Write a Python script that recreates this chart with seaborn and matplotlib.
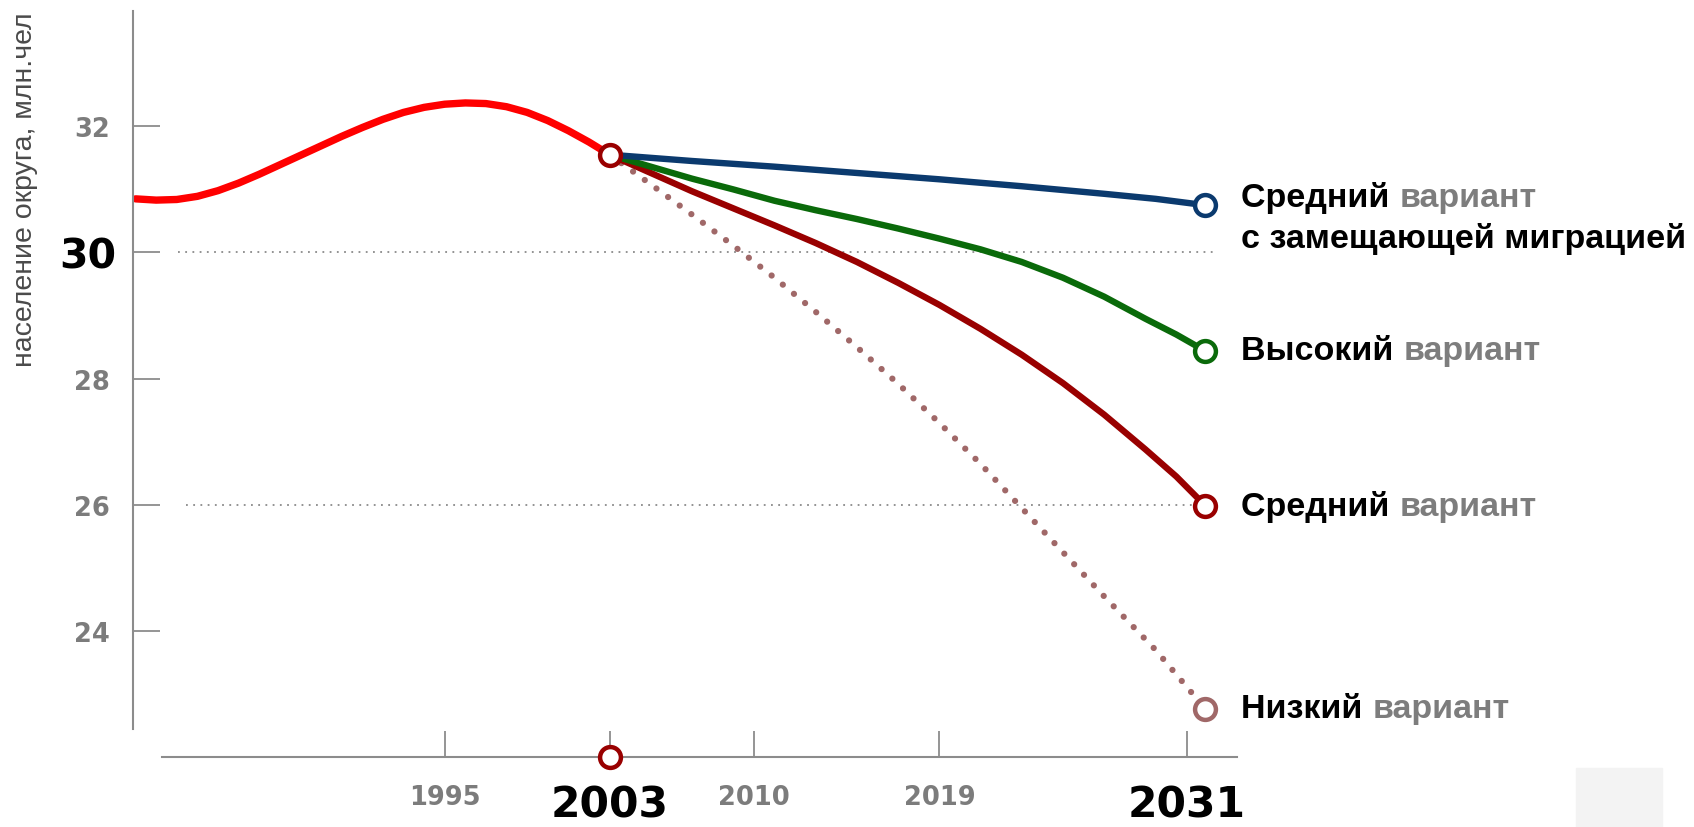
import matplotlib
matplotlib.use("Agg")
import matplotlib.pyplot as plt
import matplotlib.patches as mpatches
import seaborn as sns

# --- DATA ---
hist_years = [1980, 1981, 1982, 1983, 1984, 1985, 1986, 1987, 1988, 1989, 1990, 1991,
              1992, 1993, 1994, 1995, 1996, 1997, 1998, 1999, 2000, 2001, 2002, 2003]
hist_vals = [30.85, 30.83, 30.84, 30.89, 30.98, 31.10, 31.24, 31.39, 31.54, 31.69, 31.84, 31.98,
             32.11, 32.22, 32.30, 32.35, 32.37, 32.36, 32.31, 32.22, 32.09, 31.93, 31.75, 31.55]

base_year = 2003
end_year = 2031.9

mig_years = [2003, 2007, 2011, 2015, 2019, 2023, 2027, 2029.5, 2031.9]
mig_vals = [31.55, 31.45, 31.36, 31.26, 31.16, 31.05, 30.93, 30.85, 30.75]

high_years = [2003, 2005, 2007, 2009, 2011, 2013, 2015, 2017, 2019, 2021, 2023, 2025, 2027,
              2029, 2030.5, 2031.9]
high_vals = [31.55, 31.36, 31.17, 31.00, 30.82, 30.67, 30.53, 30.38, 30.22, 30.05, 29.85, 29.60,
             29.30, 28.95, 28.70, 28.44]

mid_years = [2003, 2005, 2007, 2009, 2011, 2013, 2015, 2017, 2019, 2021, 2023, 2025, 2027,
             2029, 2030.5, 2031.9]
mid_vals = [31.55, 31.26, 30.97, 30.70, 30.43, 30.15, 29.85, 29.52, 29.17, 28.79, 28.38, 27.93,
            27.43, 26.88, 26.45, 25.99]

low_years = [2003, 2005, 2007, 2009, 2011, 2013, 2015, 2017, 2019, 2021, 2023, 2025, 2027,
             2029.5, 2031.9]
low_vals = [31.55, 31.08, 30.60, 30.11, 29.60, 29.06, 28.50, 27.92, 27.30, 26.65, 25.95, 25.25,
            24.55, 23.70, 22.77]

x_ticks = [1995, 2003, 2010, 2019, 2031]
x_big = [2003, 2031]
y_ticks = [24, 26, 28, 30, 32]
y_big = [30]
grid_levels = [30, 26]

ylabel = "население округа, млн.чел"
variant_names = ["Средний", "Высокий", "Средний", "Низкий"]
variant_word = "вариант"
migration_line = "с замещающей миграцией"

c_hist = "#ff0000"
c_mig = "#0b3a6e"
c_high = "#0a6a0a"
c_mid = "#990000"
c_low = "#a06868"
c_axis = "#8c8c8c"
c_tick_lbl = "#7c7c7c"

sns.set_style("white")
plt.rcParams["font.family"] = ["DejaVu Sans"]

fig = plt.figure(figsize=(16.94, 8.28), dpi=100)
ax = fig.add_axes([0, 0, 1, 1])
ax.set_xlim(1973.42, 2055.62)
ax.set_ylim(20.896, 34.017)

# axes look
for s in ["top", "right"]:
    ax.spines[s].set_visible(False)
ax.spines["left"].set_position(("data", 1979.89))
ax.spines["left"].set_bounds(22.45, 33.82)
ax.spines["bottom"].set_position(("data", 22.01))
ax.spines["bottom"].set_bounds(1981.28, 2033.45)
for s in ["left", "bottom"]:
    ax.spines[s].set_color(c_axis)
    ax.spines[s].set_linewidth(1.5)

ax.set_xticks(x_ticks)
ax.set_xticklabels([str(t) for t in x_ticks])
ax.set_yticks(y_ticks)
ax.set_yticklabels([str(t) for t in y_ticks])
ax.tick_params(axis="both", direction="in", color=c_axis, width=1.3, bottom=True, left=True)
ax.tick_params(axis="x", length=18.7, pad=20)
ax.tick_params(axis="y", length=19.4, pad=17)

for t, lbl, tk in zip(x_ticks, ax.get_xticklabels(), ax.xaxis.get_major_ticks()):
    lbl.set_fontweight("bold")
    if t in x_big:
        lbl.set_fontsize(30.5)
        lbl.set_color("black")
        tk.set_pad(19.5)
    else:
        lbl.set_fontsize(18.5)
        lbl.set_color(c_tick_lbl)
for t, lbl, tk in zip(y_ticks, ax.get_yticklabels(), ax.yaxis.get_major_ticks()):
    lbl.set_fontweight("bold")
    if t in y_big:
        lbl.set_fontsize(29.5)
        lbl.set_color("black")
        tk.set_pad(12)
    else:
        lbl.set_fontsize(18.5)
        lbl.set_color(c_tick_lbl)

# dotted reference lines
ax.hlines(grid_levels[0], 1982.06, 2032.4, colors="#8a8a8a", linestyles=(0, (1, 3)), lw=1.3, zorder=1)
ax.hlines(grid_levels[1], 1982.45, end_year, colors="#8a8a8a", linestyles=(0, (1, 3)), lw=1.3, zorder=1)

# lines
sns.lineplot(x=hist_years, y=hist_vals, color=c_hist, lw=5.3, ax=ax, sort=False)
sns.lineplot(x=low_years, y=low_vals, color=c_low, lw=4.5, ax=ax, sort=False,
             linestyle=(0, (0.01, 2.3)), dash_capstyle="round")
sns.lineplot(x=mid_years, y=mid_vals, color=c_mid, lw=4.6, ax=ax, sort=False)
sns.lineplot(x=high_years, y=high_vals, color=c_high, lw=4.6, ax=ax, sort=False)
sns.lineplot(x=mig_years, y=mig_vals, color=c_mig, lw=4.6, ax=ax, sort=False)

# end markers
mk = dict(s=225, facecolor="white", linewidth=3.2, zorder=5, ax=ax, legend=False)
sns.scatterplot(x=[end_year], y=[mig_vals[-1]], edgecolor=c_mig, **mk)
sns.scatterplot(x=[end_year], y=[high_vals[-1]], edgecolor=c_high, **mk)
sns.scatterplot(x=[end_year], y=[mid_vals[-1]], edgecolor=c_mid, **mk)
sns.scatterplot(x=[end_year], y=[low_vals[-1]], edgecolor=c_low, **mk)
sns.scatterplot(x=[base_year], y=[hist_vals[-1]], edgecolor=c_mid, **mk)
sns.scatterplot(x=[base_year], y=[22.01], edgecolor=c_mid, clip_on=False, **mk)

# right-hand labels
ends = [mig_vals[-1], high_vals[-1], mid_vals[-1], low_vals[-1]]
dys = [6, 0, 0, 0]
lab_font = dict(family=["Liberation Sans", "DejaVu Sans"], fontsize=24.5, fontweight="bold")
for name, v, dy in zip(variant_names, ends, dys):
    t1 = ax.annotate(name + " ", xy=(end_year, v), xytext=(26, dy), textcoords="offset points",
                     va="center", ha="left", color="black", **lab_font)
    ax.annotate(variant_word, xy=(1, 0), xycoords=t1, va="bottom", ha="left",
                color="#7d7d7d", **lab_font)
ax.annotate(migration_line, xy=(end_year, mig_vals[-1]), xytext=(26, -24), textcoords="offset points",
            va="center", ha="left", color="black", **lab_font)

fig.text(25 / 1694, 1 - 12 / 828, ylabel, rotation=90, va="top", ha="center",
         fontsize=20.5, color="#4a4a4a", family=["Liberation Sans", "DejaVu Sans"])

# faint logo box bottom right
fig.patches.append(mpatches.Rectangle((1576 / 1694, 0), 86 / 1694, 59 / 828,
                                      transform=fig.transFigure, color="#f3f3f3", zorder=0))

fig.savefig("out.png", dpi=100)
